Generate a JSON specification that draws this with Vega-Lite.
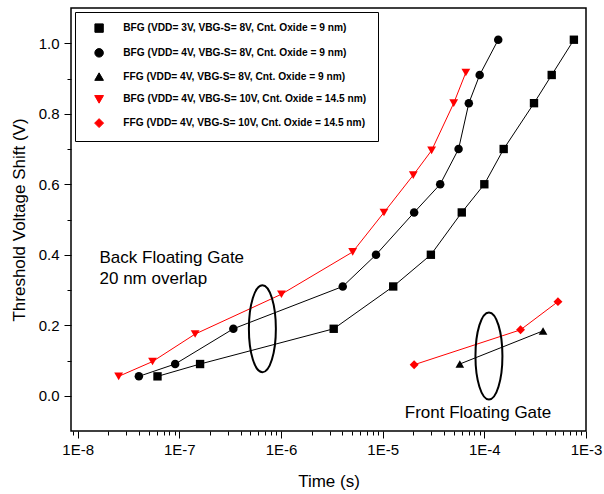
{
  "$schema": "https://vega.github.io/schema/vega-lite/v6.json",
  "width": 515,
  "height": 423,
  "autosize": "none",
  "padding": {"left": 71, "top": 8, "right": 18, "bottom": 63},
  "background": "white",
  "config": {
    "font": "Liberation Sans",
    "view": {"stroke": "#000000", "strokeWidth": 1.5},
    "axis": {"domain": false, "grid": false, "tickColor": "#000000", "tickWidth": 1, "labelColor": "#000000", "titleColor": "#000000", "labelFont": "Liberation Sans", "titleFont": "Liberation Sans", "titleFontWeight": "normal"},
    "legend": {"orient": "top-left", "offset": 4, "strokeColor": "#000000", "fillColor": "#ffffff", "padding": 11,
      "rowPadding": 10.75, "symbolSize": 174, "symbolOffset": 8, "labelOffset": 19,
      "labelFont": "Liberation Sans", "labelFontSize": 10.2, "labelFontWeight": "bold", "labelColor": "#000000", "labelLimit": 400}
  },
  "datasets": {
    "points": [
      {"series": "BFG (VDD= 3V, VBG-S= 8V, Cnt. Oxide = 9 nm)", "time": 6.1e-8, "shift": 0.055},
      {"series": "BFG (VDD= 3V, VBG-S= 8V, Cnt. Oxide = 9 nm)", "time": 1.6e-7, "shift": 0.09},
      {"series": "BFG (VDD= 3V, VBG-S= 8V, Cnt. Oxide = 9 nm)", "time": 3.3e-6, "shift": 0.19},
      {"series": "BFG (VDD= 3V, VBG-S= 8V, Cnt. Oxide = 9 nm)", "time": 1.27e-5, "shift": 0.31},
      {"series": "BFG (VDD= 3V, VBG-S= 8V, Cnt. Oxide = 9 nm)", "time": 2.98e-5, "shift": 0.40},
      {"series": "BFG (VDD= 3V, VBG-S= 8V, Cnt. Oxide = 9 nm)", "time": 6.0e-5, "shift": 0.52},
      {"series": "BFG (VDD= 3V, VBG-S= 8V, Cnt. Oxide = 9 nm)", "time": 1.0e-4, "shift": 0.60},
      {"series": "BFG (VDD= 3V, VBG-S= 8V, Cnt. Oxide = 9 nm)", "time": 1.55e-4, "shift": 0.70},
      {"series": "BFG (VDD= 3V, VBG-S= 8V, Cnt. Oxide = 9 nm)", "time": 3.08e-4, "shift": 0.83},
      {"series": "BFG (VDD= 3V, VBG-S= 8V, Cnt. Oxide = 9 nm)", "time": 4.6e-4, "shift": 0.91},
      {"series": "BFG (VDD= 3V, VBG-S= 8V, Cnt. Oxide = 9 nm)", "time": 7.6e-4, "shift": 1.01},
      {"series": "BFG (VDD= 4V, VBG-S= 8V, Cnt. Oxide = 9 nm)", "time": 4.0e-8, "shift": 0.055},
      {"series": "BFG (VDD= 4V, VBG-S= 8V, Cnt. Oxide = 9 nm)", "time": 9.1e-8, "shift": 0.09},
      {"series": "BFG (VDD= 4V, VBG-S= 8V, Cnt. Oxide = 9 nm)", "time": 3.4e-7, "shift": 0.19},
      {"series": "BFG (VDD= 4V, VBG-S= 8V, Cnt. Oxide = 9 nm)", "time": 4.05e-6, "shift": 0.31},
      {"series": "BFG (VDD= 4V, VBG-S= 8V, Cnt. Oxide = 9 nm)", "time": 8.6e-6, "shift": 0.40},
      {"series": "BFG (VDD= 4V, VBG-S= 8V, Cnt. Oxide = 9 nm)", "time": 2.04e-5, "shift": 0.52},
      {"series": "BFG (VDD= 4V, VBG-S= 8V, Cnt. Oxide = 9 nm)", "time": 3.68e-5, "shift": 0.60},
      {"series": "BFG (VDD= 4V, VBG-S= 8V, Cnt. Oxide = 9 nm)", "time": 5.58e-5, "shift": 0.70},
      {"series": "BFG (VDD= 4V, VBG-S= 8V, Cnt. Oxide = 9 nm)", "time": 7.04e-5, "shift": 0.83},
      {"series": "BFG (VDD= 4V, VBG-S= 8V, Cnt. Oxide = 9 nm)", "time": 9.0e-5, "shift": 0.91},
      {"series": "BFG (VDD= 4V, VBG-S= 8V, Cnt. Oxide = 9 nm)", "time": 1.37e-4, "shift": 1.01},
      {"series": "FFG (VDD= 4V, VBG-S= 8V, Cnt. Oxide = 9 nm)", "time": 5.74e-5, "shift": 0.09},
      {"series": "FFG (VDD= 4V, VBG-S= 8V, Cnt. Oxide = 9 nm)", "time": 3.78e-4, "shift": 0.184},
      {"series": "BFG (VDD= 4V, VBG-S= 10V, Cnt. Oxide = 14.5 nm)", "time": 2.53e-8, "shift": 0.055},
      {"series": "BFG (VDD= 4V, VBG-S= 10V, Cnt. Oxide = 14.5 nm)", "time": 5.45e-8, "shift": 0.097},
      {"series": "BFG (VDD= 4V, VBG-S= 10V, Cnt. Oxide = 14.5 nm)", "time": 1.43e-7, "shift": 0.175},
      {"series": "BFG (VDD= 4V, VBG-S= 10V, Cnt. Oxide = 14.5 nm)", "time": 1.01e-6, "shift": 0.288},
      {"series": "BFG (VDD= 4V, VBG-S= 10V, Cnt. Oxide = 14.5 nm)", "time": 5.07e-6, "shift": 0.408},
      {"series": "BFG (VDD= 4V, VBG-S= 10V, Cnt. Oxide = 14.5 nm)", "time": 1.03e-5, "shift": 0.52},
      {"series": "BFG (VDD= 4V, VBG-S= 10V, Cnt. Oxide = 14.5 nm)", "time": 2.0e-5, "shift": 0.626},
      {"series": "BFG (VDD= 4V, VBG-S= 10V, Cnt. Oxide = 14.5 nm)", "time": 3.03e-5, "shift": 0.696},
      {"series": "BFG (VDD= 4V, VBG-S= 10V, Cnt. Oxide = 14.5 nm)", "time": 5.0e-5, "shift": 0.83},
      {"series": "BFG (VDD= 4V, VBG-S= 10V, Cnt. Oxide = 14.5 nm)", "time": 6.58e-5, "shift": 0.917},
      {"series": "FFG (VDD= 4V, VBG-S= 10V, Cnt. Oxide = 14.5 nm)", "time": 2.04e-5, "shift": 0.088},
      {"series": "FFG (VDD= 4V, VBG-S= 10V, Cnt. Oxide = 14.5 nm)", "time": 2.27e-4, "shift": 0.187},
      {"series": "FFG (VDD= 4V, VBG-S= 10V, Cnt. Oxide = 14.5 nm)", "time": 5.3e-4, "shift": 0.267}
    ],
    "ellipses": [
      {"time": 6.56e-7, "shift": 0.19},
      {"time": 1.11e-4, "shift": 0.113}
    ],
    "notes": [
      {"time": 1.64e-8, "shift": 0.39, "label": "Back Floating Gate"},
      {"time": 1.64e-8, "shift": 0.33, "label": "20 nm overlap"},
      {"time": 1.65e-5, "shift": -0.048, "label": "Front Floating Gate"}
    ]
  },
  "layer": [
    {
      "data": {"name": "points"},
      "mark": {"type": "line", "strokeWidth": 1},
      "encoding": {
        "x": {"field": "time", "type": "quantitative",
          "scale": {"type": "log", "domain": [8.6e-9, 1e-3], "nice": false},
          "axis": {
            "title": "Time (s)", "titleFontSize": 17, "titlePadding": 16,
            "values": [9e-9, 1e-8, 2e-8, 3e-8, 4e-8, 5e-8, 6e-8, 7e-8, 8e-8, 9e-8, 1e-7, 2e-7, 3e-7, 4e-7, 5e-7, 6e-7, 7e-7, 8e-7, 9e-7, 1e-6, 2e-6, 3e-6, 4e-6, 5e-6, 6e-6, 7e-6, 8e-6, 9e-6, 1e-5, 2e-5, 3e-5, 4e-5, 5e-5, 6e-5, 7e-5, 8e-5, 9e-5, 1e-4, 2e-4, 3e-4, 4e-4, 5e-4, 6e-4, 7e-4, 8e-4, 9e-4, 1e-3],
            "labelExpr": "abs(log(datum.value)/LN10 - round(log(datum.value)/LN10)) < 0.001 ? '1E' + round(log(datum.value)/LN10) : ''",
            "labelOverlap": false, "labelFlush": false, "labelFontSize": 15, "labelPadding": 4,
            "tickSize": {"condition": {"test": "abs(log(datum.value)/LN10 - round(log(datum.value)/LN10)) < 0.001", "value": 7}, "value": 4}
          }
        },
        "y": {"field": "shift", "type": "quantitative",
          "scale": {"domain": [-0.1, 1.1], "nice": false, "zero": false},
          "axis": {
            "title": "Threshold Voltage Shift (V)", "titleFontSize": 17, "titlePadding": 10,
            "values": [0, 0.1, 0.2, 0.3, 0.4, 0.5, 0.6, 0.7, 0.8, 0.9, 1.0],
            "labelExpr": "round(datum.value*10) % 2 == 0 ? format(datum.value, '.1f') : ''",
            "labelFontSize": 15, "labelPadding": 5,
            "tickSize": {"condition": {"test": "round(datum.value*10) % 2 == 0", "value": 7}, "value": 4}
          }
        },
        "color": {"field": "series", "type": "nominal", "title": null,
          "scale": {"domain": ["BFG (VDD= 3V, VBG-S= 8V, Cnt. Oxide = 9 nm)", "BFG (VDD= 4V, VBG-S= 8V, Cnt. Oxide = 9 nm)", "FFG (VDD= 4V, VBG-S= 8V, Cnt. Oxide = 9 nm)", "BFG (VDD= 4V, VBG-S= 10V, Cnt. Oxide = 14.5 nm)", "FFG (VDD= 4V, VBG-S= 10V, Cnt. Oxide = 14.5 nm)"],
            "range": ["#000000", "#000000", "#000000", "#ff0000", "#ff0000"]},
          "legend": {
            "encode": {
              "symbols": {"update": {
                "shape": {"signal": "['M-2.6,0H-0.75M0.75,0H2.6M-0.6,-0.6H0.6V0.6H-0.6Z', 'M-2.6,0H-0.75M0.75,0H2.6M-0.65,0A0.65,0.65 0 1,0 0.65,0A0.65,0.65 0 1,0 -0.65,0Z', 'M-2.6,0H-0.8M0.8,0H2.6M0,-0.7L0.7,0.55H-0.7Z', 'M-2.6,0H-0.8M0.8,0H2.6M0,0.7L0.7,-0.55H-0.7Z', 'M-2.6,0H-0.85M0.85,0H2.6M0,-0.8L0.8,0L0,0.8L-0.8,0Z'][datum.index]"},
                "fill": {"signal": "datum.index >= 3 ? '#ff0000' : '#000000'"},
                "stroke": {"signal": "datum.index >= 3 ? '#ff0000' : '#000000'"},
                "strokeWidth": {"value": 1},
                "opacity": {"value": 1}
              }}
            }}}
      }
    },
    {
      "data": {"name": "points"},
      "mark": {"type": "point", "filled": true, "opacity": 1},
      "encoding": {
        "x": {"field": "time", "type": "quantitative"},
        "y": {"field": "shift", "type": "quantitative"},
        "color": {"field": "series", "type": "nominal", "title": null,
          "legend": {
            "encode": {
              "symbols": {"update": {
                "shape": {"signal": "['M-2.6,0H-0.75M0.75,0H2.6M-0.6,-0.6H0.6V0.6H-0.6Z', 'M-2.6,0H-0.75M0.75,0H2.6M-0.65,0A0.65,0.65 0 1,0 0.65,0A0.65,0.65 0 1,0 -0.65,0Z', 'M-2.6,0H-0.8M0.8,0H2.6M0,-0.7L0.7,0.55H-0.7Z', 'M-2.6,0H-0.8M0.8,0H2.6M0,0.7L0.7,-0.55H-0.7Z', 'M-2.6,0H-0.85M0.85,0H2.6M0,-0.8L0.8,0L0,0.8L-0.8,0Z'][datum.index]"},
                "fill": {"signal": "datum.index >= 3 ? '#ff0000' : '#000000'"},
                "stroke": {"signal": "datum.index >= 3 ? '#ff0000' : '#000000'"},
                "strokeWidth": {"value": 1},
                "opacity": {"value": 1}
              }}
            }}},
        "size": {"field": "series", "type": "nominal", "legend": null,
          "scale": {"domain": ["BFG (VDD= 3V, VBG-S= 8V, Cnt. Oxide = 9 nm)", "BFG (VDD= 4V, VBG-S= 8V, Cnt. Oxide = 9 nm)", "FFG (VDD= 4V, VBG-S= 8V, Cnt. Oxide = 9 nm)", "BFG (VDD= 4V, VBG-S= 10V, Cnt. Oxide = 14.5 nm)", "FFG (VDD= 4V, VBG-S= 10V, Cnt. Oxide = 14.5 nm)"],
            "range": [70, 80, 130, 130, 110]}},
        "shape": {"field": "series", "type": "nominal", "legend": null,
          "scale": {"domain": ["BFG (VDD= 3V, VBG-S= 8V, Cnt. Oxide = 9 nm)", "BFG (VDD= 4V, VBG-S= 8V, Cnt. Oxide = 9 nm)", "FFG (VDD= 4V, VBG-S= 8V, Cnt. Oxide = 9 nm)", "BFG (VDD= 4V, VBG-S= 10V, Cnt. Oxide = 14.5 nm)", "FFG (VDD= 4V, VBG-S= 10V, Cnt. Oxide = 14.5 nm)"],
            "range": ["square", "circle", "triangle-up", "triangle-down", "diamond"]}
        }
      }
    },
    {
      "data": {"name": "ellipses"},
      "mark": {"type": "point", "filled": false, "stroke": "#000000", "strokeWidth": 2, "opacity": 1, "size": 7569, "shape": "M0,-1A0.31,1 0 1,1 0,1A0.31,1 0 1,1 0,-1Z"},
      "encoding": {
        "x": {"field": "time", "type": "quantitative"},
        "y": {"field": "shift", "type": "quantitative"}
      }
    },
    {
      "data": {"name": "notes"},
      "mark": {"type": "text", "align": "left", "baseline": "middle", "fontSize": 17, "font": "Liberation Sans", "color": "#000000"},
      "encoding": {
        "x": {"field": "time", "type": "quantitative"},
        "y": {"field": "shift", "type": "quantitative"},
        "text": {"field": "label"}
      }
    }
  ]
}
